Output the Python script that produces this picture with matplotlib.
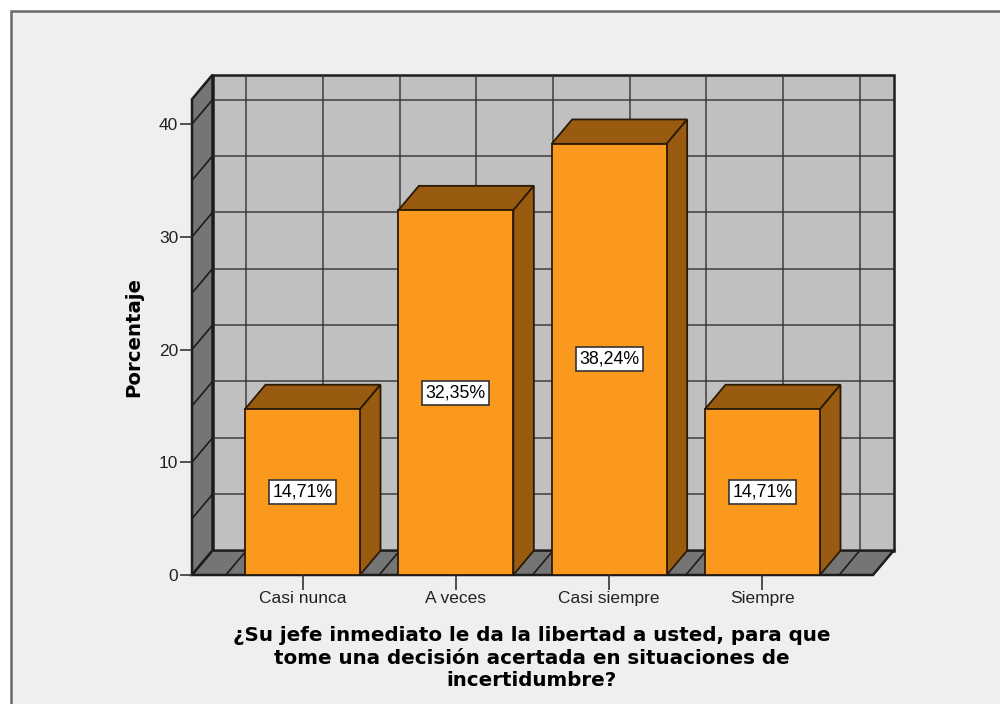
import matplotlib
matplotlib.use("Agg")
import matplotlib.pyplot as plt
from matplotlib.patches import Polygon, Rectangle

categories = ["Casi nunca", "A veces", "Casi siempre", "Siempre"]
porcentaje = [14.71, 32.35, 38.24, 14.71]
etiquetas = ["14,71%", "32,35%", "38,24%", "14,71%"]
y_ticks = [0, 10, 20, 30, 40]
titulo = "¿Su jefe inmediato le da la libertad a usted, para que\ntome una decisión acertada en situaciones de\nincertidumbre?"

plt.rcParams["font.family"] = ["Liberation Sans", "DejaVu Sans"]

W, H = 1000, 704
PX_X = 153.33   # pixeles por categoria
PX_Y = 11.275   # pixeles por unidad de porcentaje
DX = 20.5 / PX_X   # profundidad 3D en unidades de datos
DY = 24.4 / PX_Y
BAR_W = 115 / PX_X
Y_TOP = 42.2
LINE = "#1c1c1c"
FLOOR = "#757575"
WALL = "#c0c0c0"
ORANGE = "#fb981e"
BROWN = "#985b10"

fig = plt.figure(figsize=(W / 100, H / 100), dpi=100, facecolor="white")
fig.add_artist(Rectangle((10.5 / W, -0.01), 1.0, 1 - 11 / H + 0.01, transform=fig.transFigure,
                         facecolor="#efefef", edgecolor="#6a6a6a", linewidth=1.8, zorder=-1))

# ejes: izquierda 192 px, derecha 893 px, abajo 575 px, arriba 75 px
ax = fig.add_axes([192 / W, 1 - 575 / H, (893.5 - 192) / W, 500 / H])
ax.patch.set_alpha(0)
x0 = (192 - 302.5) / PX_X
x1 = x0 + 701.5 / PX_X
ax.set_xlim(x0, x1)
ax.set_ylim(0, 500 / PX_Y)
x_front_right = x1 - DX

# pared del fondo
ax.add_patch(Rectangle((x0 + DX, DY), x_front_right - x0, Y_TOP, facecolor=WALL, edgecolor=LINE, lw=1.8, zorder=1, clip_on=False))
# pared lateral
ax.add_patch(Polygon([(x0, 0), (x0 + DX, DY), (x0 + DX, DY + Y_TOP), (x0, Y_TOP)],
                     facecolor=FLOOR, edgecolor=LINE, lw=1.8, zorder=1, clip_on=False))
# suelo
ax.add_patch(Polygon([(x0, 0), (x0 + DX, DY), (x1, DY), (x_front_right, 0)],
                     facecolor=FLOOR, edgecolor=LINE, lw=1.8, zorder=1, clip_on=False))

# rejilla
for v in range(5, 45, 5):
    ax.plot([x0 + DX, x1], [v + DY, v + DY], color="#333333", lw=1.2, alpha=0.85, zorder=2)
    ax.plot([x0, x0 + DX], [v, v + DY], color=LINE, lw=1.2, zorder=2)
for k in range(-1, 8):
    xg = k / 2
    ax.plot([xg + DX, xg + DX], [DY, DY + Y_TOP], color="#333333", lw=1.2, alpha=0.85, zorder=2)
    ax.plot([xg, xg + DX], [0, DY], color=LINE, lw=1.2, zorder=2)

# barras con caras superior y lateral
for i, v in enumerate(porcentaje):
    l, r = i - BAR_W / 2, i + BAR_W / 2
    ax.add_patch(Polygon([(l, v), (l + DX, v + DY), (r + DX, v + DY), (r, v)],
                         facecolor=BROWN, edgecolor="#2a1a05", lw=1.3, zorder=3))
    ax.add_patch(Polygon([(r, 0), (r + DX, DY), (r + DX, v + DY), (r, v)],
                         facecolor=BROWN, edgecolor="#2a1a05", lw=1.3, zorder=3))
ax.bar(range(len(categories)), porcentaje, width=BAR_W, color=ORANGE, edgecolor="#2a1a05", linewidth=1.3, zorder=4)

for i, v in enumerate(porcentaje):
    ax.text(i, v / 2, etiquetas[i], ha="center", va="center", fontsize=12.8, color="black", zorder=5,
            bbox=dict(boxstyle="square,pad=0.2", facecolor="white", edgecolor="#333333", linewidth=1.2))

for s in ax.spines.values():
    s.set_visible(False)
ax.set_xticks(range(len(categories)))
ax.set_xticklabels(categories, fontsize=12.5, color="#222222")
ax.set_yticks(y_ticks)
ax.tick_params(axis="y", length=9, width=1.2, color="#333333", labelsize=12.5, labelcolor="#222222", pad=1)
ax.tick_params(axis="x", length=11, width=1.2, color="#333333", pad=0.5)
ax.set_ylabel("Porcentaje", fontsize=14.2, fontweight="bold", labelpad=0, family="DejaVu Sans")
ax.yaxis.set_label_coords((143 - 192) / 701.5, (575 - 337) / 500)

fig.text(532 / W, 1 - 658 / H, titulo, ha="center", va="center", fontsize=14.35, fontweight="bold",
         linespacing=1.26, color="black", family="DejaVu Sans")

fig.savefig("out.png", dpi=100)
